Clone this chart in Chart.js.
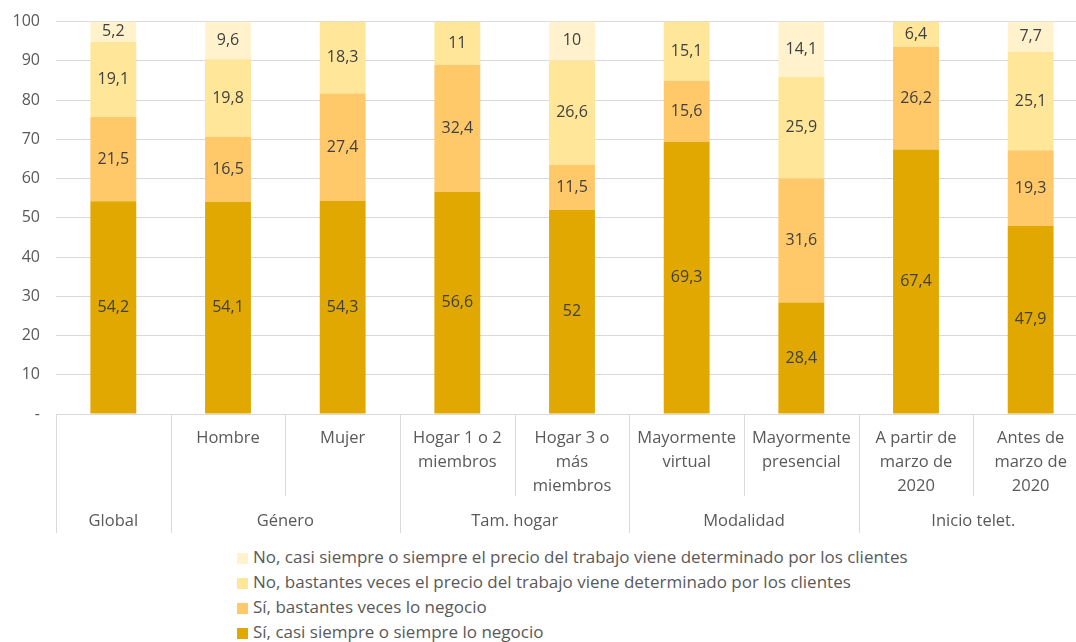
<!DOCTYPE html>
<html>
<head>
<meta charset="utf-8">
<script src="https://cdn.jsdelivr.net/npm/chart.js@4/dist/chart.umd.min.js"></script>
<style>
    html, body { margin: 0; padding: 0; background: #fff; overflow: hidden; }
    #wrap { position: relative; top: -4px; width: 1090px; height: 539px; }
    #legend { position: absolute; left: 237px; top: 544px; font: 17px "Open Sans", sans-serif; color: #595959; }
    #legend div { height: 25px; line-height: 25px; white-space: nowrap; }
    #legend span { display: inline-block; width: 11px; height: 11px; margin-right: 5px; vertical-align: -1px; }
</style>
</head>
<body>
<div id="wrap"><canvas id="bar-chart"></canvas></div>
<div id="legend"></div>
<script>
const categories = ['', 'Hombre', 'Mujer', ['Hogar 1 o 2', 'miembros'], ['Hogar 3 o', 'más', 'miembros'],
    ['Mayormente', 'virtual'], ['Mayormente', 'presencial'], ['A partir de', 'marzo de', '2020'], ['Antes de', 'marzo de', '2020']];
const groups = ['Global', 'Género', 'Tam. hogar', 'Modalidad', 'Inicio telet.'];
const groupSizes = [1, 2, 2, 2, 2];

const siempreNegocio = [54.2, 54.1, 54.3, 56.6, 52, 69.3, 28.4, 67.4, 47.9];
const bastantesNegocio = [21.5, 16.5, 27.4, 32.4, 11.5, 15.6, 31.6, 26.2, 19.3];
const bastantesClientes = [19.1, 19.8, 18.3, 11, 26.6, 15.1, 25.9, 6.4, 25.1];
const siempreClientes = [5.2, 9.6, null, null, 10, null, 14.1, null, 7.7];

const FONT = '"Open Sans", sans-serif';
const GREY = '#595959';
const LINE = '#D9D9D9';

// etiquetas de valor dentro de cada segmento
const valueLabels = {
    id: 'valueLabels',
    afterDatasetsDraw(chart) {
        const ctx = chart.ctx;
        ctx.save();
        ctx.font = '16px ' + FONT;
        ctx.fillStyle = '#404040';
        ctx.textAlign = 'center';
        ctx.textBaseline = 'middle';
        chart.data.datasets.forEach((ds, i) => {
            chart.getDatasetMeta(i).data.forEach((bar, j) => {
                const v = ds.data[j];
                if (v === null) return;
                ctx.fillText(String(v).replace('.', ','), bar.x, (bar.y + bar.base) / 2);
            });
        });
        ctx.restore();
    }
};

// separadores y nombres de grupo bajo el eje x
const groupAxis = {
    id: 'groupAxis',
    afterDraw(chart) {
        const ctx = chart.ctx;
        const x = chart.scales.x;
        const top = chart.chartArea.bottom;
        const edge = i => {
            if (i === 0) return chart.chartArea.left;
            if (i === categories.length) return chart.chartArea.right;
            return (x.getPixelForValue(i - 1) + x.getPixelForValue(i)) / 2;
        };
        const starts = [0];
        groupSizes.forEach(n => starts.push(starts[starts.length - 1] + n));
        ctx.save();
        ctx.strokeStyle = LINE;
        ctx.lineWidth = 1;
        for (let i = 0; i <= categories.length; i++) {
            const px = Math.round(edge(i)) + 0.5;
            const long = starts.includes(i);
            ctx.beginPath();
            ctx.moveTo(px, top);
            ctx.lineTo(px, long ? top + 119 : top + 82);
            ctx.stroke();
        }
        ctx.font = '16.5px ' + FONT;
        ctx.fillStyle = GREY;
        ctx.textAlign = 'center';
        ctx.textBaseline = 'middle';
        groups.forEach((g, k) => {
            const cx = (edge(starts[k]) + edge(starts[k + 1])) / 2;
            ctx.fillText(g, cx, top + 107);
        });
        ctx.restore();
    }
};

function buildChart() {
    const data = {
        labels: categories,
        datasets: [{
            label: 'Sí, casi siempre o siempre lo negocio',
            backgroundColor: '#E0A800',
            data: siempreNegocio,
        }, {
            label: 'Sí, bastantes veces lo negocio',
            backgroundColor: '#FFC869',
            data: bastantesNegocio,
        }, {
            label: 'No, bastantes veces el precio del trabajo viene determinado por los clientes',
            backgroundColor: '#FFE699',
            data: bastantesClientes,
        }, {
            label: 'No, casi siempre o siempre el precio del trabajo viene determinado por los clientes',
            backgroundColor: '#FFF2CC',
            data: siempreClientes,
        }]
    };
    const config = {
        type: 'bar',
        data,
        options: {
            responsive: true,
            maintainAspectRatio: false,
            animation: false,
            categoryPercentage: 0.4,
            barPercentage: 1,
            layout: {padding: {top: 17, right: 2, left: 0, bottom: 0}},
            plugins: {
                legend: {display: false},
                tooltip: {enabled: false},
            },
            scales: {
                x: {
                    stacked: true,
                    grid: {display: false},
                    border: {display: true, color: LINE, width: 1},
                    ticks: {
                        color: GREY,
                        font: {family: FONT, size: 16.5, lineHeight: 1.45},
                        padding: 4,
                        maxRotation: 0,
                        autoSkip: false,
                    },
                    afterFit: scale => { scale.height = 121; },
                },
                y: {
                    stacked: true,
                    min: 0,
                    max: 100,
                    grid: {color: LINE, drawTicks: false},
                    border: {display: false},
                    ticks: {
                        stepSize: 10,
                        color: GREY,
                        padding: 16,
                        font: {family: FONT, size: 16},
                        callback: v => v === 0 ? '-' : v,
                    },
                    afterFit: scale => { scale.width = 56; },
                }
            }
        },
        plugins: [valueLabels, groupAxis]
    };
    const chart = new Chart(document.getElementById('bar-chart'), config);

    const legend = document.getElementById('legend');
    chart.data.datasets.slice().reverse().forEach(ds => {
        legend.insertAdjacentHTML('beforeend',
            `<div><span style="background:${ds.backgroundColor}"></span>${ds.label}</div>`);
    });
}

buildChart();
</script>
</body>
</html>
